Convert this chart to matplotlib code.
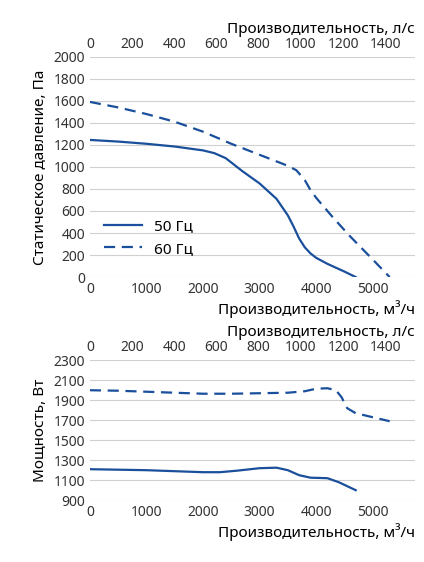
import matplotlib
matplotlib.use("Agg")
import matplotlib.pyplot as plt
import numpy as np

plt.rcParams['font.family'] = ['Noto Sans', 'DejaVu Sans']

q50_p = [0, 500, 1000, 1500, 2000, 2200, 2400, 2500, 2700, 3000, 3300, 3500, 3600, 3700, 3800, 3900, 4000, 4200, 4500, 4700]
p50 = [1245, 1230, 1210, 1185, 1150, 1125, 1080, 1040, 960, 850, 710, 560, 460, 350, 270, 215, 175, 120, 50, 0]
q60_p = [0, 500, 1000, 1500, 2000, 2500, 3000, 3300, 3500, 3650, 3800, 3900, 4000, 4300, 4600, 5000, 5300]
p60 = [1590, 1540, 1480, 1410, 1320, 1210, 1110, 1050, 1010, 970, 880, 790, 720, 540, 370, 160, 0]
q50_w = [0, 500, 1000, 1500, 2000, 2300, 2600, 3000, 3300, 3500, 3700, 3900, 4200, 4400, 4700]
w50 = [1210, 1205, 1200, 1190, 1180, 1180, 1195, 1220, 1225, 1200, 1150, 1125, 1120, 1080, 1000]
q60_w = [0, 500, 1000, 1500, 2000, 2500, 3000, 3500, 3800, 4000, 4200, 4350, 4450, 4550, 4700, 5000, 5300]
w60 = [2000, 1995, 1985, 1975, 1965, 1965, 1970, 1975, 1990, 2015, 2020, 2000, 1930, 1820, 1770, 1730, 1690]

C = '#1a4f9c'
RATIO = 3.73
fig = plt.figure(figsize=(4.24, 5.62), dpi=100)
ax1 = fig.add_axes([0.212, 0.507, 0.767, 0.392])
ax2 = fig.add_axes([0.212, 0.110, 0.767, 0.249])

for ax in (ax1, ax2):
    ax.set_xlim(0, 5750)
    ax.set_xticks([0, 1000, 2000, 3000, 4000, 5000])
    ax.grid(axis='y', color='#d0d0d0', lw=0.8)
    ax.set_axisbelow(True)
    for s in ax.spines.values():
        s.set_visible(False)
    ax.tick_params(length=0, labelsize=10, colors='#333333')
    ax.set_xlabel('Производительность, м³/ч', fontsize=11, labelpad=2, loc='right')
    sec = ax.secondary_xaxis('top', functions=(lambda x: x / RATIO, lambda x: x * RATIO))
    sec.set_xticks(range(0, 1401, 200))
    sec.tick_params(length=0, labelsize=10, colors='#333333')
    sec.spines['top'].set_visible(False)
    sec.set_xlabel('Производительность, л/с', fontsize=11, loc='right', labelpad=3)

ax1.plot(q50_p, p50, color=C, lw=1.6, label='50 Гц')
ax1.plot(q60_p, p60, color=C, lw=1.6, ls=(0, (5, 3)), label='60 Гц')
ax1.set_ylim(0, 2000)
ax1.set_yticks(range(0, 2001, 200))
ax1.set_ylabel('Статическое давление, Па', fontsize=11)
ax1.legend(loc='lower left', bbox_to_anchor=(0.0, 0.03), frameon=False, fontsize=11, handlelength=2.5)

ax2.plot(q50_w, w50, color=C, lw=1.6)
ax2.plot(q60_w, w60, color=C, lw=1.6, ls=(0, (5, 3)))
ax2.set_ylim(900, 2300)
ax2.set_yticks(range(900, 2301, 200))
ax2.set_ylabel('Мощность, Вт', fontsize=11)

fig.savefig('out.png', dpi=100)
